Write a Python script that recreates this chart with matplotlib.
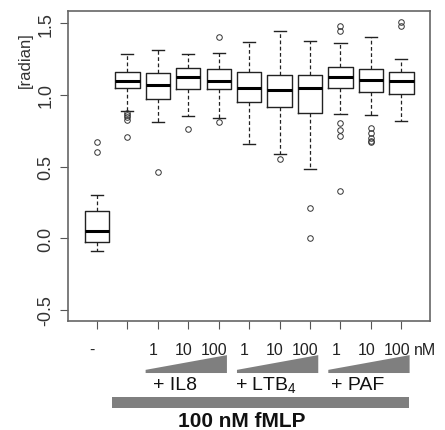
import matplotlib.pyplot as plt
from matplotlib.patches import Polygon, Rectangle

# box statistics
whislo = [-0.092, 0.885, 0.809, 0.853, 0.841, 0.655, 0.585, 0.480, 0.865, 0.858, 0.816]
q1     = [-0.025, 1.051, 0.972, 1.039, 1.039, 0.953, 0.918, 0.874, 1.046, 1.023, 1.004]
med    = [0.052, 1.100, 1.072, 1.125, 1.097, 1.046, 1.034, 1.046, 1.125, 1.104, 1.095]
q3     = [0.187, 1.160, 1.151, 1.186, 1.179, 1.160, 1.142, 1.142, 1.193, 1.183, 1.160]
whishi = [0.301, 1.284, 1.311, 1.284, 1.291, 1.372, 1.444, 1.374, 1.363, 1.407, 1.251]
fliers = [
    [0.669, 0.599],
    [0.876, 0.862, 0.845, 0.827, 0.704],
    [0.464],
    [0.760],
    [1.407, 0.813],
    [],
    [0.550],
    [0.208, -0.001],
    [1.484, 1.446, 0.804, 0.755, 0.716, 0.331],
    [0.771, 0.732, 0.697, 0.681, 0.671],
    [1.507, 1.479],
]

conc_labels = ['-', '', '1', '10', '100', '1', '10', '100', '1', '10', '100']
groups = ['+ IL8', '+ LTB$_{4}$', '+ PAF']
group_pos = [(3, 5), (6, 8), (9, 11)]

plt.rcParams['font.family'] = ['Liberation Sans', 'DejaVu Sans']
plt.rcParams['mathtext.default'] = 'regular'

fig = plt.figure(figsize=(4.45, 4.31), dpi=100)
ax = fig.add_axes([68.3 / 445, 1 - 322.3 / 431, (430 - 68.3) / 445, (322.3 - 12.3) / 431])

stats = []
for i in range(len(med)):
    stats.append(dict(whislo=whislo[i], q1=q1[i], med=med[i], q3=q3[i],
                      whishi=whishi[i], fliers=fliers[i]))

pos = list(range(1, len(med) + 1))
ax.bxp(stats, positions=pos, widths=0.8, showfliers=True,
       boxprops=dict(color='#222222', linewidth=1.0),
       medianprops=dict(color='black', linewidth=2.2),
       whiskerprops=dict(color='#222222', linewidth=0.9, linestyle=(0, (3, 2))),
       capprops=dict(color='#222222', linewidth=1.0),
       flierprops=dict(marker='o', markersize=4, markerfacecolor='none',
                       markeredgecolor='#333333', markeredgewidth=0.7))

ax.set_xlim(0.06, 11.94)
ax.set_ylim(-0.58, 1.584)
ax.set_yticks([-0.5, 0.0, 0.5, 1.0, 1.5])
ax.set_yticklabels(['-0.5', '0.0', '0.5', '1.0', '1.5'], rotation=90, va='center',
                   fontsize=13, color='#333333')
ax.set_xticks(pos)
ax.set_xticklabels([])
ax.tick_params(axis='both', length=6, width=0.8, color='#555555', pad=4)
for s in ax.spines.values():
    s.set_color('#666666')
    s.set_linewidth(1.2)

ax.text(-1.36, 1.25, '[radian]', rotation=90, ha='center', va='center',
        fontsize=12, color='#333333', clip_on=False)

# concentration labels under the axis
for p, lab in zip(pos, conc_labels):
    if lab:
        ax.text(p - 0.15, -0.774, lab, ha='center', va='center', fontsize=11.5,
                color='#222222', clip_on=False)
ax.text(11.42, -0.774, 'nM', ha='left', va='center', fontsize=11.5,
        color='#222222', clip_on=False)

# gradient wedges and group names
for (a, b), g in zip(group_pos, groups):
    x0, x1 = a - 0.4, b + 0.27
    wedge = Polygon([(x0, -0.941), (x1, -0.941), (x1, -0.816), (x0, -0.919)],
                    closed=True, facecolor='#7f7f7f', edgecolor='none', clip_on=False)
    ax.add_patch(wedge)
    ax.text((a + b) / 2 - 0.44, -1.019, g, ha='center', va='center', fontsize=14,
            color='#111111', clip_on=False)

ax.add_patch(Rectangle((1.5, -1.186), 9.76, 0.081, facecolor='#7f7f7f',
                       edgecolor='none', clip_on=False))
ax.text(5.76, -1.272, '100 nM fMLP', ha='center', va='center', fontsize=15,
        fontweight='bold', color='#111111', clip_on=False)

fig.savefig('out.png', dpi=100)
